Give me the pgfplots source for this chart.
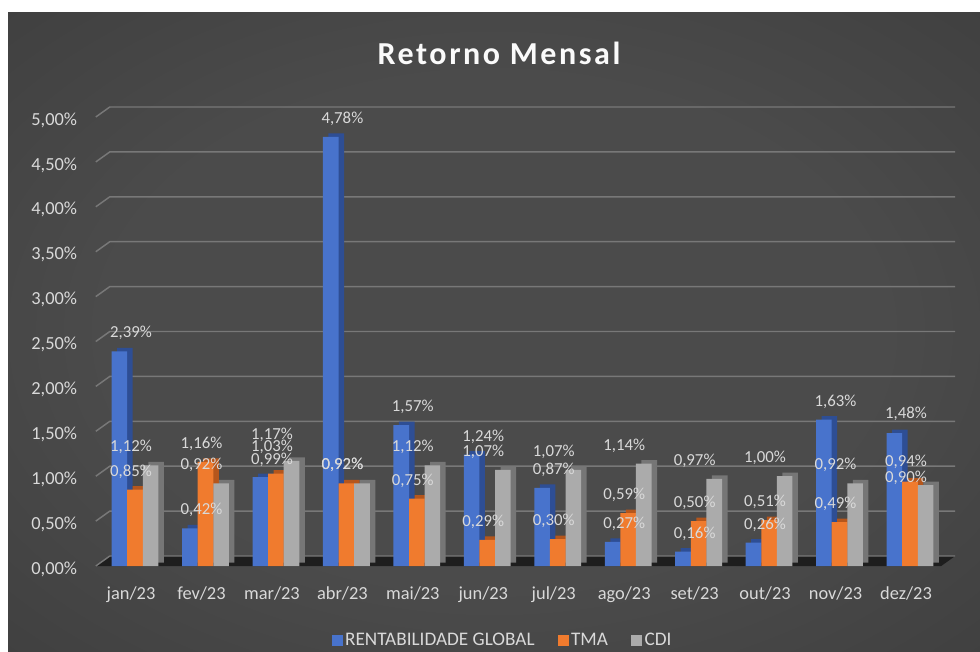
\documentclass[border=0pt]{standalone}
\usepackage{fontspec}
\setmainfont{Carlito}
\usepackage{pgfplots}
\pgfplotsset{compat=1.18}
\usepackage{pgfplotstable}

\definecolor{cBlue}{HTML}{4873CC}
\definecolor{cBlueD}{HTML}{2E4E94}
\definecolor{cOr}{HTML}{F07B2E}
\definecolor{cOrD}{HTML}{B5561C}
\definecolor{cGr}{HTML}{ABABAB}
\definecolor{cGrD}{HTML}{767676}
\definecolor{txt}{HTML}{D9D9D9}
\definecolor{gridc}{HTML}{787878}
\definecolor{floorc}{HTML}{1E1E1E}
\definecolor{bgA}{HTML}{4B4B4B}
\definecolor{bgB}{HTML}{363636}
\definecolor{bgC}{HTML}{262626}

\pgfdeclareradialshading{bgshade}{\pgfpoint{0bp}{0bp}}{color(0bp)=(bgA); color(20bp)=(bgA); color(50bp)=(bgB); color(72bp)=(bgC)}

% last three columns: label offsets (pt) for the data labels
\pgfplotstableread{
x rg tma cdi drg dtma dcdi
0 2.39 0.85 1.12 5 5 5
1 0.42 1.16 0.92 5 5 5
2 0.99 1.03 1.17 4 11 11
3 4.78 0.92 0.92 5 5 5
4 1.57 0.75 1.12 5 5 5
5 1.24 0.29 1.07 5 5 5
6 0.87 0.30 1.07 5 5 5
7 0.27 0.59 1.14 5 5 5
8 0.16 0.50 0.97 5 5 5
9 0.26 0.51 1.00 5 5 5
10 1.63 0.49 0.92 5 5 5
11 1.48 0.94 0.90 6 6 -3.5
}\data

\begin{document}
\begin{tikzpicture}
\useasboundingbox (0,0) rectangle (735pt,488.25pt);
\fill[white] (0,0) rectangle (735pt,488.25pt);
\shade[shading=bgshade] (6pt,0pt) rectangle (735pt,478.5pt);
\begin{axis}[
  at={(71.85pt,63.75pt)}, anchor=south west,
  scale only axis, width=634.05pt, height=336.75pt,
  xmin=-0.5, xmax=11.5, ymin=0, ymax=5,
  axis line style={draw=none}, major tick length=0pt,
  xtick={0,...,11},
  xticklabels={jan/23,fev/23,mar/23,abr/23,mai/23,jun/23,jul/23,ago/23,set/23,out/23,nov/23,dez/23},
  ytick={0,0.5,1,1.5,2,2.5,3,3.5,4,4.5,5},
  yticklabel={\pgfmathprintnumber[fixed,fixed zerofill,precision=2,use comma]{\tick}\%},
  /pgf/number format/assume math mode=true,
  ticklabel style={font=\fontsize{13.8pt}{16pt}\selectfont, text=txt},
  yticklabel style={xshift=-10.5pt, yshift=-2.25pt},
  xticklabel style={yshift=-12pt},
  clip=false,
  legend columns=3,
  legend style={draw=none, fill=none, text=txt, font=\fontsize{14.4pt}{16pt}\selectfont,
    at={(0.4817,-0.1648)}, anchor=center,
    /tikz/every even column/.append style={column sep=15.5pt}},
  every node near coord/.append style={font=\fontsize{12.6pt}{14pt}\selectfont, text=txt},
]
\fill[floorc] (axis cs:-0.5,0) -- (axis cs:11.5,0) -- ++(10.5pt,7.5pt) -- ([shift={(10.5pt,7.5pt)}]axis cs:-0.5,0) -- cycle;
\pgfplotsinvokeforeach{0,0.5,1,1.5,2,2.5,3,3.5,4,4.5,5}{
  \draw[gridc, line width=1.1pt] (axis cs:-0.5,#1) -- ++(10.5pt,7.5pt) -- ([shift={(10.5pt,7.5pt)}]axis cs:11.5,#1);
}
% side/top faces
\addplot[ybar, bar width=11.7pt, bar shift=-4.575pt, fill=cBlueD, draw=none, yshift=2.625pt, forget plot] table[x=x,y=rg]{\data};
\addplot[ybar, bar width=11.7pt, bar shift=7.125pt, fill=cOrD, draw=none, yshift=2.625pt, forget plot] table[x=x,y=tma]{\data};
\addplot[ybar, bar width=11.7pt, bar shift=18.825pt, fill=cGrD, draw=none, yshift=2.625pt, forget plot] table[x=x,y=cdi]{\data};
% front faces
\addplot[ybar, bar width=11.7pt, bar shift=-8.7pt, fill=cBlue, draw=none, forget plot, point meta=y,
  visualization depends on={\thisrow{drg} \as \dy},
  nodes near coords style={yshift=\dy pt},
  nodes near coords={\pgfmathprintnumber[fixed,fixed zerofill,precision=2,use comma]{\pgfplotspointmeta}\%}] table[x=x,y=rg]{\data};
\addplot[ybar, bar width=11.7pt, bar shift=3pt, fill=cOr, draw=none, forget plot, point meta=y,
  visualization depends on={\thisrow{dtma} \as \dy},
  nodes near coords style={yshift=\dy pt},
  nodes near coords={\pgfmathprintnumber[fixed,fixed zerofill,precision=2,use comma]{\pgfplotspointmeta}\%}] table[x=x,y=tma]{\data};
\addplot[ybar, bar width=11.7pt, bar shift=14.7pt, fill=cGr, draw=none, forget plot, point meta=y,
  visualization depends on={\thisrow{dcdi} \as \dy},
  nodes near coords style={yshift=\dy pt},
  nodes near coords={\pgfmathprintnumber[fixed,fixed zerofill,precision=2,use comma]{\pgfplotspointmeta}\%}] table[x=x,y=cdi]{\data};
\addlegendimage{legend image code/.code={\fill[cBlue] (0pt,-3.75pt) rectangle (7.5pt,3.75pt);}}
\addlegendentry{RENTABILIDADE GLOBAL}
\addlegendimage{legend image code/.code={\fill[cOr] (0pt,-3.75pt) rectangle (7.5pt,3.75pt);}}
\addlegendentry{TMA}
\addlegendimage{legend image code/.code={\fill[cGr] (0pt,-3.75pt) rectangle (7.5pt,3.75pt);}}
\addlegendentry{CDI}
\end{axis}
\node[anchor=base, text=white!96!gray, font=\fontsize{24pt}{28pt}\selectfont\bfseries\addfontfeature{LetterSpace=8}] at (374.25pt,439.5pt) {Retorno Mensal};
\end{tikzpicture}
\end{document}
